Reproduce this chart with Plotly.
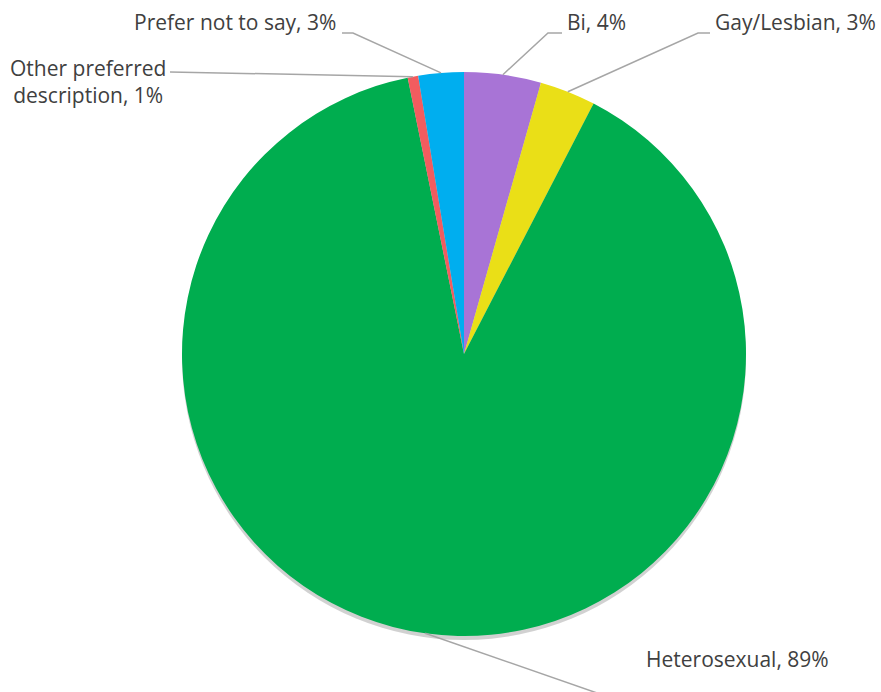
import math
import plotly.graph_objects as go

# slices, clockwise from 12 o'clock
labels = ["Bi", "Gay/Lesbian", "Heterosexual", "Other preferred description", "Prefer not to say"]
values = [4.4, 3.2, 89.2, 0.6, 2.6]
colors = ["#A874D6", "#EADF17", "#00AD4F", "#F25C5F", "#00AEEF"]

W, H = 881, 692
cx, cy, R = 464, 354, 282  # pie centre / radius in pixels

def px(x):
    return x / W

def py(y):
    return 1 - y / H

fig = go.Figure()

# soft shadow under the pie
fig.add_trace(go.Pie(
    values=[1], marker=dict(colors=["rgba(0,0,0,0.18)"], line=dict(width=0)),
    textinfo="none", hoverinfo="skip", showlegend=False,
    domain=dict(x=[px(cx - R), px(cx + R)], y=[py(cy + R + 4), py(cy - R + 4)]),
))

fig.add_trace(go.Pie(
    labels=labels, values=values, sort=False, direction="clockwise", rotation=0,
    marker=dict(colors=colors, line=dict(width=0)),
    textinfo="none", showlegend=False,
    domain=dict(x=[px(cx - R), px(cx + R)], y=[py(cy + R), py(cy - R)]),
))

# anchor points on the rim at each slice's mid angle
total = sum(values)
anchors = []
cum = 0
for v in values:
    mid = (cum + v / 2) / total * 2 * math.pi
    anchors.append((cx + R * math.sin(mid), cy - R * math.cos(mid)))
    cum += v

pct = [int(v / total * 100 + 0.5) for v in values]

# label boxes: (text, x, y, xanchor) and leader elbow points
label_cfg = [
    (f"Bi, {pct[0]}%", 565, 22, "left", [(548, 33), (562, 33)]),
    (f"Gay/Lesbian, {pct[1]}%", 713, 22, "left", [(698, 33), (710, 33)]),
    (f"Heterosexual, {pct[2]}%", 644, 659, "left", [(600, 694)]),
    (f"Other preferred<br>description, {pct[3]}%", 88, 81, "center", [(170, 72)]),
    (f"Prefer not to say, {pct[4]}%", 338, 22, "right", [(353, 33), (342, 33)]),
]

for (text, lx, ly, xa, pts), (ax, ay) in zip(label_cfg, anchors):
    path = f"M {px(ax)} {py(ay)}" + "".join(f" L {px(x)} {py(y)}" for x, y in pts)
    fig.add_shape(type="path", path=path, xref="paper", yref="paper",
                  line=dict(color="#A6A6A6", width=1.5))
    fig.add_annotation(x=px(lx), y=py(ly), xref="paper", yref="paper", text=text,
                       showarrow=False, xanchor=xa, yanchor="middle", align="center",
                       font=dict(family="Open Sans", size=21, color="#404040"))

fig.update_layout(
    width=W, height=H,
    margin=dict(l=0, r=0, t=0, b=0),
    paper_bgcolor="white", plot_bgcolor="white",
)

fig.write_html("out.html", config={"displayModeBar": False},
               post_script="document.body.style.margin='0';")
